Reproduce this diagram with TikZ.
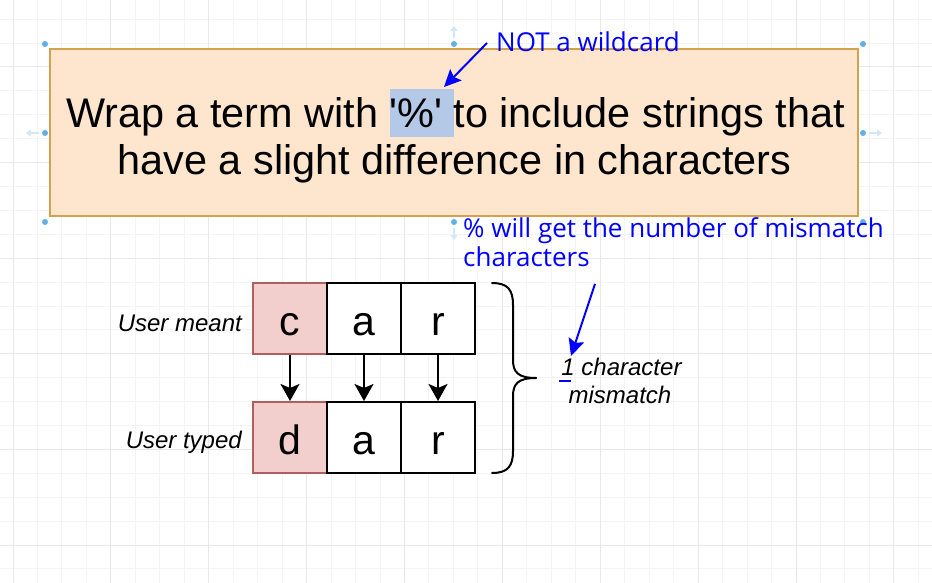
\documentclass[tikz,border=0pt]{standalone}
\usepackage{fontspec}
\setmainfont{Liberation Sans}[Ligatures=TeXOff]
\newfontfamily\annotfont{Open Sans}
\usetikzlibrary{arrows.meta}
\definecolor{boxfill}{HTML}{FDE6CD}
\definecolor{boxdraw}{HTML}{D4A24C}
\definecolor{hl}{HTML}{B4C8E8}
\definecolor{redfill}{HTML}{F2CFCD}
\definecolor{reddraw}{HTML}{B0605C}
\definecolor{handle}{HTML}{62B0E8}
\definecolor{handlelt}{HTML}{D2E7F7}
\definecolor{gridminor}{HTML}{F4F4F4}
\definecolor{gridmajor}{HTML}{E8E8E8}
\newcommand\hlbox[1]{{\setlength{\fboxsep}{0pt}\colorbox{hl}{\rule[-0.21em]{0pt}{1.14em}#1}}}
\tikzset{
  mainbox/.style={draw=boxdraw, fill=boxfill, line width=2pt, minimum width=808pt, minimum height=167pt, inner sep=0pt},
  bigtext/.style={font=\fontsize{41.4}{47}\selectfont, inner sep=0pt, anchor=base},
  annot/.style={font=\annotfont\fontsize{26}{29}\selectfont, text=blue, inner sep=0pt, anchor=base west},
  bluearrow/.style={draw=blue, line width=2pt, -{Stealth[length=17pt, width=16pt, inset=3pt]}},
  blackarrow/.style={draw=black, line width=2pt, -{Stealth[length=17pt, width=19pt, inset=4pt]}},
  cell/.style={draw=black, fill=white, line width=2pt, minimum width=74pt, minimum height=71pt, inner sep=0pt,
    font=\fontsize{41}{46}\selectfont, text height=38pt, text depth=5pt},
  redcell/.style={cell, draw=reddraw, fill=redfill},
  itlabel/.style={font=\itshape\fontsize{24}{28}\selectfont, inner sep=0pt},
  hdot/.style={circle, fill=handle, inner sep=0pt, minimum size=6pt},
  harrow/.style={draw=handlelt, line width=2pt, -{Triangle[length=5pt, width=7pt]}}
}
\begin{document}
\begin{tikzpicture}[x=1pt, y=-1pt]
\useasboundingbox (0,0) rectangle (932,583);
\fill[white] (0,0) rectangle (932,583);
% grid
\foreach \k in {0,...,38} {
  \pgfmathsetmacro\xx{-11.47+24.47*\k}
  \draw[gridminor, line width=1pt] (\xx,0) -- (\xx,583);
}
\foreach \k in {0,...,23} {
  \pgfmathsetmacro\yy{568.9-23.9*\k}
  \draw[gridminor, line width=1pt] (0,\yy) -- (932,\yy);
}
\foreach \k in {0,...,9} {
  \pgfmathsetmacro\xx{13+97.88*\k}
  \draw[gridmajor, line width=1pt] (\xx,0) -- (\xx,583);
}
\foreach \k in {0,...,5} {
  \pgfmathsetmacro\yy{545-95.6*\k}
  \draw[gridmajor, line width=1pt] (0,\yy) -- (932,\yy);
}

% selection handles
\draw[harrow] (454,38) -- (454,26);
\draw[harrow] (39,133) -- (26,133);
\draw[harrow] (869,133) -- (882,133);
\draw[harrow] (454,228) -- (454,240);
\foreach \p [count=\i] in {(45,44),(454,44),(863,44),(45,133),(863,133),(45,222),(454,222),(863,222)}
  \node[hdot] (h\i) at \p {};

% main box
\node[mainbox] (main) at (454,132.5) {};
\node[bigtext] (line1) at (455.5,128) {Wrap a term with \hlbox{'\%'\ }to include strings that};
\node[bigtext] (line2) at (454.5,175) {have a slight difference in characters};

% annotations
\node[annot] (notwild) at (496,52) {NOT a wildcard};
\coordinate (notwildstart) at (487,43);
\coordinate (pcttip) at (444,87);
\draw[bluearrow] (notwildstart) -- (pcttip);

\node[annot] (pct1) at (463,237) {\% will get the number of mismatch};
\node[annot] (pct2) at (463,266) {characters};
\coordinate (pctstart) at (595,284);
\coordinate (onetip) at (571,356);
\draw[bluearrow] (pctstart) -- (onetip);

% cells
\node[redcell] (c1) at (290,318.5) {c};
\node[cell] (c2) at (364,318.5) {a};
\node[cell] (c3) at (438,318.5) {r};
\node[redcell] (d1) at (290,437.5) {d};
\node[cell] (d2) at (364,437.5) {a};
\node[cell] (d3) at (438,437.5) {r};

\draw[blackarrow] (c1.south) -- (d1.north);
\draw[blackarrow] (c2.south) -- (d2.north);
\draw[blackarrow] (c3.south) -- (d3.north);

\node[itlabel, anchor=base east] (meant) at (242,331) {User meant};
\node[itlabel, anchor=base east] (typed) at (242,448) {User typed};

% brace
\coordinate (bt) at (492,283);
\coordinate (bm) at (536,378);
\coordinate (bb) at (492,473);
\draw[line width=2pt, line cap=round] (bt) .. controls (508,283) and (513,290) .. (513,305)
  -- (513,360) .. controls (513,372) and (518,378) .. (bm);
\draw[line width=2pt, line cap=round] (bm) .. controls (518,378) and (513,384) .. (513,396)
  -- (513,451) .. controls (513,466) and (508,473) .. (bb);

% mismatch label
\node[itlabel, anchor=base] (mm1) at (621.5,375) {1 character};
\node[itlabel, anchor=base] (mm2) at (620,403) {mismatch};
\draw[blue, line width=2pt] (559,381) -- (571,381);
\end{tikzpicture}
\end{document}
